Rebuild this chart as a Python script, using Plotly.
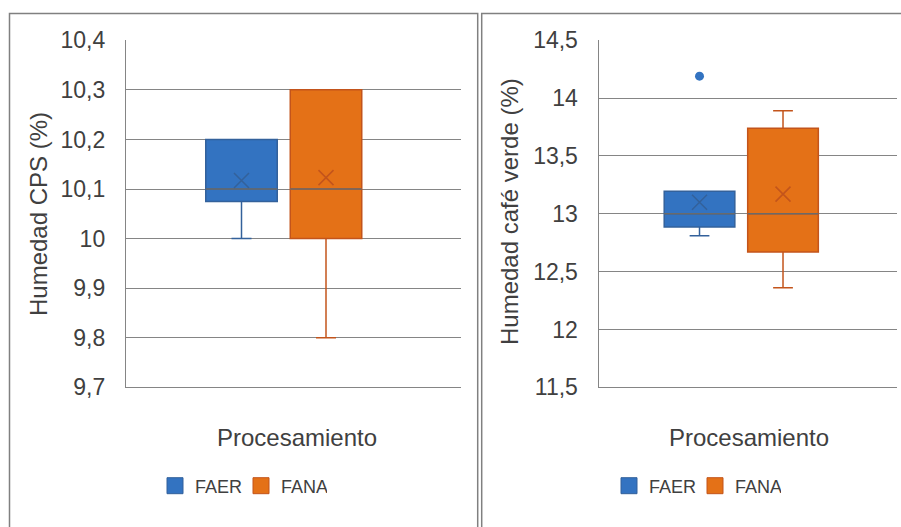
import plotly.graph_objects as go

W, H = 901, 527

# ---------------- data ----------------
series = ["FAER", "FANA"]
category = "Procesamiento"

# Humedad CPS (%)
cps_lower = [10.0, 9.8]
cps_q1 = [10.075, 10.0]
cps_median = [10.1, 10.1]
cps_q3 = [10.2, 10.3]
cps_upper = [10.2, 10.3]
cps_mean = [10.117, 10.123]
cps_outliers = [[], []]

# Humedad café verde (%)
cv_lower = [12.81, 12.36]
cv_q1 = [12.885, 12.67]
cv_median = [13.0, 13.0]
cv_q3 = [13.195, 13.74]
cv_upper = [13.195, 13.89]
cv_mean = [13.10, 13.17]
cv_outliers = [[14.19], []]

cps_ticks = [9.7, 9.8, 9.9, 10.0, 10.1, 10.2, 10.3, 10.4]
cv_ticks = [11.5, 12.0, 12.5, 13.0, 13.5, 14.0, 14.5]

fill_colors = ["#3373C1", "#E47117"]
line_colors = ["#33619B", "#C3541B"]
text_color = "#404040"
grid_color = "#858585"
FONT = "Liberation Sans, Arial, sans-serif"


def px_x(p):
    return p / W


def px_y(p):
    return 1 - p / H


fig = go.Figure()


def add_panel(xa, ya, lower, q1, med, q3, upper, mean, outl, legend):
    for i, name in enumerate(series):
        og = name
        fig.add_trace(go.Box(
            x=[category], q1=[q1[i]], median=[med[i]], q3=[q3[i]],
            lowerfence=[lower[i]], upperfence=[upper[i]],
            name=name, offsetgroup=og, xaxis=xa, yaxis=ya,
            fillcolor=fill_colors[i], line=dict(color=line_colors[i], width=1.5),
            whiskerwidth=0.28, boxpoints=False, showlegend=False, hoverinfo="skip"))
        # median line (grey)
        fig.add_trace(go.Box(
            x=[category], y=[med[i]], name=name, offsetgroup=og, xaxis=xa, yaxis=ya,
            fillcolor="rgba(0,0,0,0)", line=dict(color="#6A6A6A", width=1.6),
            whiskerwidth=0, boxpoints=False, showlegend=False, hoverinfo="skip"))
        # mean marker
        fig.add_trace(go.Box(
            x=[category], y=[mean[i]], name=name, offsetgroup=og, xaxis=xa, yaxis=ya,
            fillcolor="rgba(0,0,0,0)", line=dict(color="rgba(0,0,0,0)", width=0),
            boxpoints="all", pointpos=0, jitter=0,
            marker=dict(symbol="x-thin", size=15, color=line_colors[i],
                        line=dict(color=line_colors[i], width=1.5)),
            showlegend=False, hoverinfo="skip"))
        if outl[i]:
            fig.add_trace(go.Box(
                x=[category] * len(outl[i]), y=outl[i], name=name, offsetgroup=og,
                xaxis=xa, yaxis=ya,
                fillcolor="rgba(0,0,0,0)", line=dict(color="rgba(0,0,0,0)", width=0),
                boxpoints="all", pointpos=0, jitter=0,
                marker=dict(symbol="circle", size=9, color=fill_colors[i]),
                showlegend=False, hoverinfo="skip"))
        # legend entry
        fig.add_trace(go.Scatter(
            x=[None], y=[None], mode="markers", name=name, xaxis=xa, yaxis=ya,
            marker=dict(symbol="square", size=19, color=fill_colors[i],
                        line=dict(color=line_colors[i], width=1)),
            legend=legend, showlegend=True))


add_panel("x", "y", cps_lower, cps_q1, cps_median, cps_q3, cps_upper, cps_mean,
          cps_outliers, "legend")
add_panel("x2", "y2", cv_lower, cv_q1, cv_median, cv_q3, cv_upper, cv_mean,
          cv_outliers, "legend2")

yaxis_common = dict(
    showgrid=True, gridcolor=grid_color, gridwidth=1.4,
    showline=True, linecolor=grid_color, linewidth=1.4,
    zeroline=False, ticks="", ticklabelstandoff=15, automargin=False,
    tickfont=dict(family=FONT, size=23, color=text_color),
)
xaxis_common = dict(
    type="category", showticklabels=False, showgrid=False, zeroline=False,
    showline=True, linecolor=grid_color, linewidth=1.4, ticks="", automargin=False,
)

legend_common = dict(
    orientation="h", xanchor="center", y=px_y(486), yanchor="middle",
    font=dict(family=FONT, size=18, color=text_color),
    bgcolor="rgba(0,0,0,0)", itemclick=False, entrywidth=41,
)

fig.update_layout(
    width=W, height=H,
    margin=dict(l=0, r=0, t=0, b=0, autoexpand=False),
    paper_bgcolor="white", plot_bgcolor="white",
    separators=", ",
    boxmode="group", boxgap=0.4955, boxgroupgap=0.154,
    font=dict(family=FONT, color=text_color),
    xaxis=dict(domain=[px_x(126), px_x(461)], anchor="y",
               range=[-0.4709, 0.5291], **xaxis_common),
    yaxis=dict(domain=[px_y(387.3), px_y(40.3)], anchor="x",
               range=[9.7, 10.4], tickvals=cps_ticks, **yaxis_common),
    xaxis2=dict(domain=[px_x(598.7), px_x(896.7)], anchor="y2",
                range=[-0.4307, 0.4696], **xaxis_common),
    yaxis2=dict(domain=[px_y(387.3), px_y(40.3)], anchor="x2",
                range=[11.5, 14.5], tickvals=cv_ticks, **yaxis_common),
    legend=dict(x=px_x(241), **legend_common),
    legend2=dict(x=px_x(695), **legend_common),
    shapes=[
        dict(type="rect", xref="paper", yref="paper",
             x0=px_x(9.5), x1=px_x(477.7), y0=-0.1, y1=px_y(13.5),
             line=dict(color="#808080", width=1.5), fillcolor="rgba(0,0,0,0)"),
        dict(type="rect", xref="paper", yref="paper",
             x0=px_x(481.7), x1=1.1, y0=-0.1, y1=px_y(13.5),
             line=dict(color="#808080", width=1.5), fillcolor="rgba(0,0,0,0)"),
    ],
    annotations=[
        dict(text="Humedad CPS (%)", xref="paper", yref="paper",
             x=px_x(39), y=px_y(214), textangle=-90, showarrow=False,
             xanchor="center", yanchor="middle",
             font=dict(family=FONT, size=24, color=text_color)),
        dict(text="Humedad café verde (%)", xref="paper", yref="paper",
             x=px_x(509), y=px_y(212), textangle=-90, showarrow=False,
             xanchor="center", yanchor="middle",
             font=dict(family=FONT, size=24, color=text_color)),
        dict(text=category, xref="paper", yref="paper",
             x=px_x(296.5), y=px_y(437), showarrow=False,
             xanchor="center", yanchor="middle",
             font=dict(family=FONT, size=24, color=text_color)),
        dict(text=category, xref="paper", yref="paper",
             x=px_x(749), y=px_y(437), showarrow=False,
             xanchor="center", yanchor="middle",
             font=dict(family=FONT, size=24, color=text_color)),
    ],
)

fig.write_html("out.html", config={"displayModeBar": False},
               post_script="document.body.style.margin='0';")
